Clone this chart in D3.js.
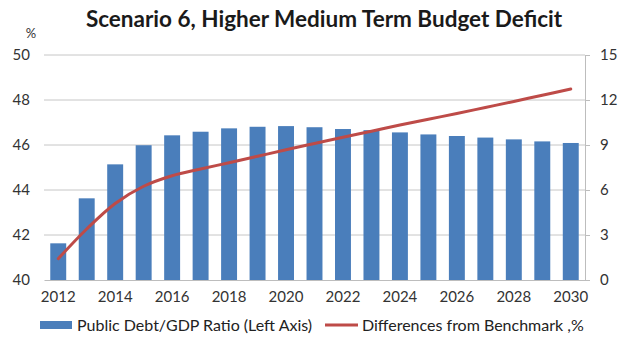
<!DOCTYPE html>
<html>
<head>
<meta charset="utf-8">
<script src="https://cdn.jsdelivr.net/npm/d3@7"></script>
<style>
  html, body { margin: 0; padding: 0; background: #fff; }
  svg { display: block; font-family: Lato, "Open Sans", sans-serif; }
</style>
</head>
<body>
<svg id="chart" width="620" height="349"></svg>
<script>
// Years on the category axis
const years = d3.range(2012, 2031);
// Public debt / GDP ratio, % (left axis)
const debtRatio = [41.63, 43.63, 45.14, 45.99, 46.43, 46.59, 46.74, 46.81, 46.84, 46.79,
                   46.71, 46.66, 46.56, 46.47, 46.40, 46.33, 46.25, 46.16, 46.09];
// Differences from benchmark, % (right axis)
const diffBench = [1.42, 3.40, 5.10, 6.25, 6.95, 7.40, 7.82, 8.25, 8.68, 9.10,
                   9.52, 9.92, 10.33, 10.72, 11.10, 11.50, 11.90, 12.32, 12.73];
const leftTicks = [40, 42, 44, 46, 48, 50];
const rightTicks = [0, 3, 6, 9, 12, 15];
const labelYears = [2012, 2014, 2016, 2018, 2020, 2022, 2024, 2026, 2028, 2030];

const svg = d3.select("#chart");
const m = { left: 44, right: 585, top: 55, bottom: 280 };

const x = d3.scaleBand().domain(years).range([m.left, m.right]).paddingInner(0.44).paddingOuter(0.22);
const yL = d3.scaleLinear().domain([40, 50]).range([m.bottom, m.top]);
const yR = d3.scaleLinear().domain([0, 15]).range([m.bottom, m.top]);

// Title
svg.append("text")
  .attr("x", 324).attr("y", 27)
  .attr("text-anchor", "middle")
  .attr("font-size", 22.5).attr("font-weight", "bold").attr("fill", "#1a1a1a")
  .text("Scenario 6, Higher Medium Term Budget Deficit");

svg.append("text")
  .attr("x", 31).attr("y", 38)
  .attr("text-anchor", "middle")
  .attr("font-size", 13).attr("fill", "#333")
  .text("%");

// Horizontal gridlines
svg.append("g")
  .selectAll("line")
  .data(leftTicks.slice(1))
  .join("line")
  .attr("x1", m.left).attr("x2", m.right)
  .attr("y1", d => yL(d)).attr("y2", d => yL(d))
  .attr("stroke", "#c6c6c6").attr("stroke-width", 1);

// Left axis labels
const leftAxis = svg.append("g")
  .attr("transform", `translate(${m.left},0)`)
  .call(d3.axisLeft(yL).tickValues(leftTicks).tickSize(0).tickPadding(14));
leftAxis.select(".domain").remove();
leftAxis.selectAll("text").attr("font-size", 15).attr("fill", "#333").attr("font-family", "Lato, sans-serif");

// Right axis
const rightAxis = svg.append("g")
  .attr("transform", `translate(${m.right},0)`)
  .call(d3.axisRight(yR).tickValues(rightTicks).tickSizeOuter(0).tickSize(5).tickPadding(10));
rightAxis.select(".domain").attr("stroke", "#bdbdbd");
rightAxis.selectAll(".tick line").attr("stroke", "#bdbdbd");
rightAxis.selectAll("text").attr("font-size", 15).attr("fill", "#333").attr("font-family", "Lato, sans-serif");

// Bars
svg.append("g")
  .selectAll("rect")
  .data(years)
  .join("rect")
  .attr("x", d => x(d))
  .attr("width", x.bandwidth())
  .attr("y", (d, i) => yL(debtRatio[i]))
  .attr("height", (d, i) => yL(40) - yL(debtRatio[i]))
  .attr("fill", "#4a7ebb");

// Bottom axis
const bottomAxis = svg.append("g")
  .attr("transform", `translate(0,${m.bottom})`)
  .call(d3.axisBottom(x).tickValues(labelYears).tickSize(0).tickPadding(11).tickSizeOuter(0));
bottomAxis.select(".domain").attr("stroke", "#bdbdbd");
bottomAxis.selectAll("text").attr("font-size", 15).attr("fill", "#333").attr("font-family", "Lato, sans-serif");

// Smoothed difference line
const line = d3.line()
  .x((d, i) => x(years[i]) + x.bandwidth() / 2)
  .y(d => yR(d))
  .curve(d3.curveCatmullRom.alpha(0.5));
svg.append("path")
  .datum(diffBench)
  .attr("d", line)
  .attr("fill", "none")
  .attr("stroke", "#be4b48")
  .attr("stroke-width", 3)
  .attr("stroke-linecap", "round");

// Legend
const lg = svg.append("g").attr("font-size", 16).attr("fill", "#222");
lg.append("rect").attr("x", 40).attr("y", 321).attr("width", 32).attr("height", 8).attr("fill", "#4a7ebb");
lg.append("text").attr("x", 77).attr("y", 331).text("Public Debt/GDP Ratio (Left Axis)");
lg.append("line").attr("x1", 325).attr("x2", 358).attr("y1", 325).attr("y2", 325)
  .attr("stroke", "#be4b48").attr("stroke-width", 3);
lg.append("text").attr("x", 362).attr("y", 331).text("Differences from Benchmark ,%");
</script>
</body>
</html>
